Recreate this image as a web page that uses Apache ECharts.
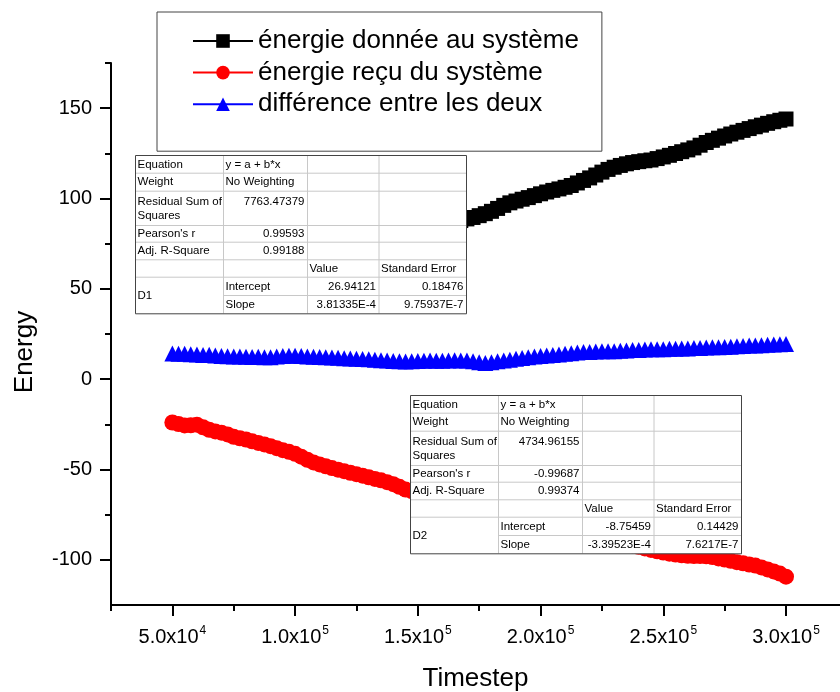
<!DOCTYPE html>
<html>
<head>
<meta charset="utf-8">
<script src="https://cdn.jsdelivr.net/npm/echarts@6/dist/echarts.min.js"></script>
<style>
  html, body { margin: 0; background: #fff; }
  #chart { width: 840px; height: 692px; }
</style>
</head>
<body>
<div id="chart"></div>
<script>
const FONT = '"Liberation Sans", Arial, sans-serif'

// timesteps sampled along the curves
const steps = [
  50000, 52500, 55000, 57500, 60000, 62500, 65000, 67500, 70000, 72500,
  75000, 77500, 80000, 82500, 85000, 87500, 90000, 92500, 95000, 97500,
  100000, 102500, 105000, 107500, 110000, 112500, 115000, 117500, 120000, 122500,
  125000, 127500, 130000, 132500, 135000, 137500, 140000, 142500, 145000, 147500,
  150000, 152500, 155000, 157500, 160000, 162500, 165000, 167500, 170000, 172500,
  175000, 177500, 180000, 182500, 185000, 187500, 190000, 192500, 195000, 197500,
  200000, 202500, 205000, 207500, 210000, 212500, 215000, 217500, 220000, 222500,
  225000, 227500, 230000, 232500, 235000, 237500, 240000, 242500, 245000, 247500,
  250000, 252500, 255000, 257500, 260000, 262500, 265000, 267500, 270000, 272500,
  275000, 277500, 280000, 282500, 285000, 287500, 290000, 292500, 295000, 297500,
  300000
]

const energieDonnee = [
  46.0, 46.9, 47.8, 48.6, 49.5, 50.5, 51.3, 52.1, 53.1, 53.9,
  54.8, 55.8, 56.6, 57.4, 58.4, 59.3, 60.1, 61.0, 61.9, 62.8,
  63.8, 64.6, 65.4, 66.4, 67.3, 68.1, 69.0, 69.9, 70.8, 71.8,
  72.6, 73.4, 74.4, 75.3, 76.1, 77.0, 77.9, 78.8, 79.8, 80.6,
  81.4, 82.4, 83.3, 84.1, 85.0, 85.9, 86.8, 87.8, 88.7, 89.5,
  90.5, 91.6, 92.9, 94.5, 96.2, 97.6, 98.6, 99.6, 100.5, 101.6,
  102.6, 103.6, 104.5, 105.3, 106.2, 107.2, 108.6, 110.0, 111.4, 113.0,
  114.6, 116.1, 117.3, 118.3, 119.2, 119.9, 120.4, 120.9, 121.3, 122.1,
  123.0, 123.9, 124.9, 125.9, 126.9, 128.0, 129.5, 131.0, 132.2, 133.4,
  134.6, 135.7, 136.7, 137.7, 138.7, 139.7, 140.6, 141.6, 142.5, 143.3,
  144.0
]

const energieRecu = [
  -24.0, -24.8, -25.6, -25.5, -25.2, -26.6, -28.0, -28.9, -29.6, -30.6,
  -31.9, -32.7, -33.4, -34.4, -35.3, -36.1, -37.1, -38.2, -39.3, -40.2,
  -41.3, -42.9, -44.6, -46.1, -47.2, -48.2, -49.2, -50.1, -50.9, -51.8,
  -52.6, -53.4, -54.3, -55.2, -56.0, -57.0, -58.1, -59.6, -61.1, -62.0,
  -62.8, -63.5, -64.4, -65.3, -66.0, -66.9, -67.8, -68.6, -69.4, -70.3,
  -71.2, -71.9, -72.8, -73.7, -74.4, -75.3, -76.2, -77.0, -77.8, -78.7,
  -79.5, -80.3, -81.2, -82.0, -82.8, -83.7, -84.5, -85.3, -86.2, -87.0,
  -87.8, -88.7, -89.5, -90.3, -91.2, -92.0, -92.8, -93.7, -94.5, -95.3,
  -96.0, -96.6, -97.1, -97.5, -97.8, -97.9, -97.9, -98.0, -98.5, -99.2,
  -99.8, -100.5, -101.3, -101.9, -102.6, -103.2, -104.2, -105.3, -106.4, -107.6,
  -109.3
]

const difference = [
  14.2, 14.0, 14.1, 13.8, 13.6, 13.4, 13.5, 13.1, 12.8, 12.7,
  12.5, 12.6, 12.4, 12.3, 12.4, 12.2, 12.2, 12.5, 12.8, 13.0,
  13.0, 12.8, 12.6, 12.4, 12.3, 12.1, 12.0, 11.8, 11.6, 11.4,
  11.3, 11.1, 11.0, 10.8, 10.5, 10.3, 10.1, 9.9, 9.8, 9.9,
  10.0, 10.2, 10.3, 10.2, 10.2, 10.4, 10.5, 10.4, 10.3, 9.9,
  9.3, 9.0, 9.3, 9.9, 10.4, 10.8, 11.3, 11.7, 12.1, 12.5,
  12.8, 13.1, 13.4, 13.7, 14.0, 14.4, 14.8, 15.0, 15.1, 15.3,
  15.4, 15.5, 15.5, 15.7, 15.9, 16.1, 16.2, 16.4, 16.5, 16.6,
  16.6, 16.8, 16.9, 17.0, 17.0, 17.2, 17.3, 17.5, 17.6, 17.7,
  17.8, 18.0, 18.2, 18.4, 18.6, 18.7, 18.8, 19.0, 19.2, 19.3,
  19.5
]

const seriesNames = ['énergie donnée au système', 'énergie reçu du système', 'différence entre les deux']

// linear fit of the first series (from the D1 table)
const fit1Intercept = 26.94121
const fit1Slope = 3.81335e-4

const yMajorTicks = [-100, -50, 0, 50, 100, 150]
const yMinorTicks = [-75, -25, 25, 75, 125, 175]
const xMajorTicks = [50000, 100000, 150000, 200000, 250000, 300000]
const xMinorTicks = [25000, 75000, 125000, 175000, 225000, 275000]

const table1Rows = [
  ['Equation', 'y = a + b*x', '', ''],
  ['Weight', 'No Weighting', '', ''],
  ['Residual Sum of\nSquares', '7763.47379', '', ''],
  ["Pearson's r", '0.99593', '', ''],
  ['Adj. R-Square', '0.99188', '', ''],
  ['', '', 'Value', 'Standard Error'],
  ['D1', 'Intercept', '26.94121', '0.18476'],
  ['', 'Slope', '3.81335E-4', '9.75937E-7']
]
const table2Rows = [
  ['Equation', 'y = a + b*x', '', ''],
  ['Weight', 'No Weighting', '', ''],
  ['Residual Sum of\nSquares', '4734.96155', '', ''],
  ["Pearson's r", '-0.99687', '', ''],
  ['Adj. R-Square', '0.99374', '', ''],
  ['', '', 'Value', 'Standard Error'],
  ['D2', 'Intercept', '-8.75459', '0.14429'],
  ['', 'Slope', '-3.39523E-4', '7.6217E-7']
]

// table cell grid (offsets from the table's top-left corner)
const colX = [0, 88, 172, 243.5, 331]
const rowY = [0, 17.7, 35.7, 70, 86.7, 104.3, 121.7, 140, 158.3]

function buildTable(x0, y0, rows) {
  const els = []
  const W = colX[colX.length - 1]
  const H = rowY[rowY.length - 1]
  els.push({ type: 'rect', z: 100, shape: { x: x0 + 0.5, y: y0 + 0.5, width: W, height: H },
    style: { fill: '#fff', stroke: 'none' } })
  // inner lines
  for (let r = 1; r < rowY.length - 1; r++) {
    const startX = r === 7 ? colX[1] : 0
    els.push({ type: 'line', z: 101, shape: { x1: x0 + startX, y1: y0 + rowY[r] + 0.5, x2: x0 + W, y2: y0 + rowY[r] + 0.5 },
      style: { stroke: '#c8c8c8', lineWidth: 1 } })
  }
  for (let c = 1; c < colX.length - 1; c++) {
    els.push({ type: 'line', z: 101, shape: { x1: x0 + colX[c] + 0.5, y1: y0, x2: x0 + colX[c] + 0.5, y2: y0 + H },
      style: { stroke: '#c8c8c8', lineWidth: 1 } })
  }
  els.push({ type: 'rect', z: 102, shape: { x: x0 + 0.5, y: y0 + 0.5, width: W, height: H },
    style: { fill: 'none', stroke: '#444', lineWidth: 1 } })
  const isNum = s => /^-?[\d.]+(E-?\d+)?$/.test(s)
  rows.forEach((row, r) => {
    row.forEach((txt, c) => {
      if (!txt) return
      const right = isNum(txt)
      let ty = y0 + (rowY[r] + rowY[r + 1]) / 2 + 0.5
      let va = 'middle'
      if (r === 2) {
        ty = c === 0 ? y0 + rowY[r] + 4 : y0 + rowY[r] + 11
        va = c === 0 ? 'top' : 'middle'
      }
      if (r === 6 && c === 0) ty = y0 + rowY[7] + 0.5
      els.push({
        type: 'text', z: 103,
        x: right ? x0 + colX[c + 1] - 2.5 : x0 + colX[c] + 2.5,
        y: ty,
        style: { text: txt, fill: '#000', font: '11.5px ' + FONT, align: right ? 'right' : 'left',
          verticalAlign: va, lineHeight: 14 }
      })
    })
  })
  return els
}

function sciLabel(v) {
  const exp = Math.floor(Math.log10(v))
  const m = v / Math.pow(10, exp)
  return '{b|' + m.toFixed(1) + 'x10}{s|' + exp + '}'
}

const pairs = vals => steps.map((t, i) => [t, vals[i]])

const option = {
  animation: false,
  backgroundColor: '#fff',
  textStyle: { fontFamily: FONT },
  grid: { left: 111, top: 63, right: 0, bottom: 87, containLabel: false, outerBoundsMode: 'none' },
  legend: {
    data: seriesNames,
    orient: 'vertical',
    left: 157,
    top: 12,
    padding: [16, 23, 34, 35],
    itemWidth: 60,
    itemHeight: 17,
    itemGap: 5.6,
    borderColor: '#444',
    borderWidth: 1,
    textStyle: { fontSize: 26, color: '#000', fontFamily: FONT }
  },
  xAxis: [
    {
      type: 'value', min: 25000, max: 322000,
      name: 'Timestep', nameLocation: 'middle', nameGap: 61,
      nameTextStyle: { fontSize: 26, color: '#000', fontFamily: FONT },
      axisLine: { onZero: false, lineStyle: { color: '#000', width: 2 } },
      axisTick: { customValues: xMajorTicks, length: 11, lineStyle: { color: '#000', width: 2 } },
      axisLabel: {
        customValues: xMajorTicks, margin: 20, color: '#000', formatter: sciLabel,
        rich: {
          b: { fontSize: 20, fontFamily: FONT, color: '#000', lineHeight: 24 },
          s: { fontSize: 12, fontFamily: FONT, color: '#000', lineHeight: 24, verticalAlign: 'top', padding: [0, 0, 8, 1] }
        }
      },
      splitLine: { show: false }
    },
    {
      type: 'value', min: 25000, max: 322000, position: 'bottom', offset: 0,
      axisLine: { show: false, onZero: false },
      axisTick: { customValues: xMinorTicks, length: 6, lineStyle: { color: '#000', width: 2 } },
      axisLabel: { show: false },
      splitLine: { show: false }
    }
  ],
  yAxis: [
    {
      type: 'value', min: -125, max: 175,
      name: 'Energy', nameLocation: 'middle', nameGap: 73,
      nameTextStyle: { fontSize: 26, color: '#000', fontFamily: FONT, padding: [0, 36, 0, 0] },
      axisLine: { onZero: false, lineStyle: { color: '#000', width: 2 } },
      axisTick: { customValues: yMajorTicks, length: 11, lineStyle: { color: '#000', width: 2 } },
      axisLabel: { customValues: yMajorTicks, margin: 19, fontSize: 20, color: '#000', fontFamily: FONT },
      splitLine: { show: false }
    },
    {
      type: 'value', min: -125, max: 175, position: 'left', offset: 0,
      axisLine: { show: false, onZero: false },
      axisTick: { customValues: yMinorTicks, length: 6, lineStyle: { color: '#000', width: 2 } },
      axisLabel: { show: false },
      splitLine: { show: false }
    }
  ],
  series: [
    {
      name: seriesNames[0], type: 'line', data: pairs(energieDonnee),
      symbol: 'rect', symbolSize: 15, color: '#000',
      lineStyle: { width: 1, color: '#000' }, itemStyle: { color: '#000' }
    },
    {
      name: seriesNames[1], type: 'line', data: pairs(energieRecu),
      symbol: 'circle', symbolSize: 16, color: '#ff0000',
      lineStyle: { width: 1, color: '#ff0000' }, itemStyle: { color: '#ff0000' }
    },
    {
      name: seriesNames[2], type: 'line', data: pairs(difference),
      symbol: 'triangle', symbolSize: 16, color: '#0000ff',
      lineStyle: { width: 1, color: '#0000ff' }, itemStyle: { color: '#0000ff' }
    },
    {
      name: 'fit D1', type: 'line', symbol: 'none', silent: true,
      data: [steps[0], steps[steps.length - 1]].map(t => [t, fit1Intercept + fit1Slope * t]),
      lineStyle: { width: 1, color: '#ff0000' }
    }
  ],
  graphic: [].concat(buildTable(135, 155, table1Rows), buildTable(410, 395, table2Rows))
}

const myChart = echarts.init(document.getElementById('chart'))
myChart.setOption(option)
</script>
</body>
</html>
